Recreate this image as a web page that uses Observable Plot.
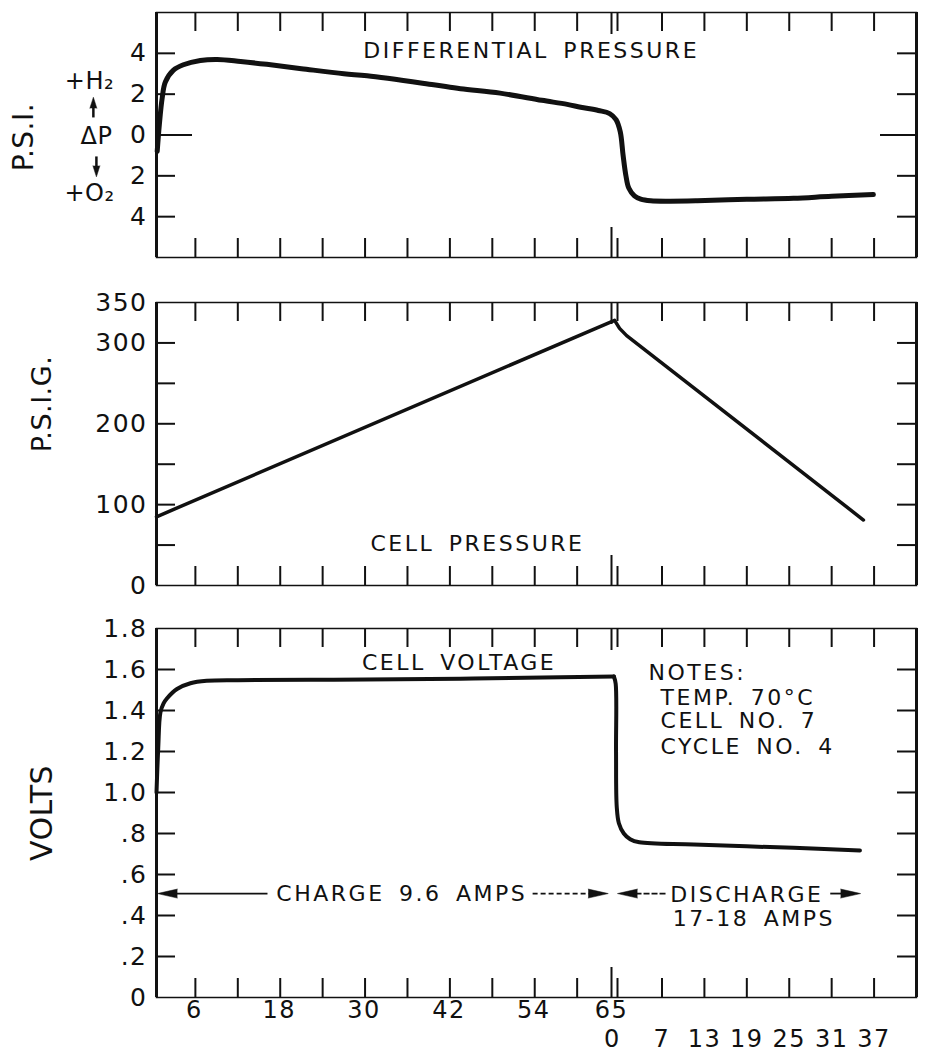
<!DOCTYPE html>
<html>
<head>
<meta charset="utf-8">
<script src="https://cdn.jsdelivr.net/npm/d3@7"></script>
<script src="https://cdn.jsdelivr.net/npm/@observablehq/plot@0.6"></script>
<style>
  body { margin: 0; background: #fff; }
  #chart { position: relative; width: 925px; height: 1064px; font-family: "DejaVu Sans", sans-serif; }
  #chart svg { position: absolute; left: 0; overflow: visible; background: transparent; }
  #chart svg text { letter-spacing: 1.5px; }
  #chart g[aria-description="lettering"] text { letter-spacing: 2.5px; word-spacing: 5px; }
  #chart g[aria-description="title"] text { letter-spacing: 0.5px; }
  #chart g[aria-description="gas"] text { letter-spacing: 0.5px; }
</style>
</head>
<body>
<div id="chart"></div>
<script>
// ---------------- DATA ----------------
// Elapsed time: charge minutes 0-65, then discharge minutes continue after 65
const CHARGE_END = 65;

// Differential pressure (P.S.I., + = H2 side, - = O2 side)
const diffTime = [0.6, 0.9, 1.3, 1.75, 2.9, 4.3, 6.7, 9.1, 12.4, 16.1, 21.0, 27.0, 30.3, 39.7, 43.5, 49.1, 55.0, 58.6, 60.5, 63.0, 64.6, 65.5, 66.1, 66.5, 66.9, 67.3, 68.1, 69.0, 70.4, 73.0, 77.0, 84.0, 90.6, 96.0, 101.9];
const diffPsi  = [-0.8, 0.5, 1.8, 2.6, 3.18, 3.44, 3.65, 3.70, 3.60, 3.46, 3.25, 3.0, 2.9, 2.46, 2.27, 2.05, 1.70, 1.50, 1.36, 1.20, 1.05, 0.75, 0.15, -1.0, -2.0, -2.6, -2.98, -3.14, -3.22, -3.24, -3.22, -3.15, -3.1, -3.0, -2.92];

// Cell pressure (P.S.I.G.)
const cellTime = [0.5, 65.3, 66.0, 67.0, 100.5];
const cellPsig = [85, 328, 318, 309, 81];

// Cell voltage (volts): charge branch, then discharge branch (starting at the corner)
const voltChargeTime = [0.5, 0.75, 1.05, 1.5, 2.0, 3.4, 5.3, 7.6, 12.0, 25.6, 43.5, 57.6, 65.2];
const voltCharge     = [1.00, 1.22, 1.39, 1.435, 1.46, 1.505, 1.533, 1.545, 1.548, 1.55, 1.555, 1.562, 1.566];
const voltDischTime  = [65.2, 65.45, 65.5, 65.6, 65.9, 66.6, 67.5, 68.8, 76.5, 90.6, 100.0];
const voltDisch      = [1.566, 1.53, 1.2, 0.93, 0.85, 0.80, 0.772, 0.757, 0.746, 0.73, 0.717];

// Axis ticks / labels
const chargeTicks = [6, 12, 18, 24, 30, 36, 42, 48, 54, 60];
const chargeLabels = [6, 18, 30, 42, 54, 65];
const dischargeTicks = [7, 13, 19, 25, 31, 37];
const dischargeLabels = [0, 7, 13, 19, 25, 31, 37];

const diffTicks = [4, 2, 0, -2, -4];
const diffLabels = ["4", "2", "0", "2", "4"];
const psigTicks = [50, 100, 150, 200, 250, 300];
const psigLabelValues = [0, 100, 200, 300, 350];
const voltTicks = [0.2, 0.4, 0.6, 0.8, 1.0, 1.2, 1.4, 1.6];
const voltLabelValues = [0, 0.2, 0.4, 0.6, 0.8, 1.0, 1.2, 1.4, 1.6, 1.8];
const voltLabels = ["0", ".2", ".4", ".6", ".8", "1.0", "1.2", "1.4", "1.6", "1.8"];

const noteLines = ["NOTES:", "TEMP. 70°C", "CELL NO. 7", "CYCLE NO. 4"];

// ---------------- LAYOUT ----------------
const X_DOMAIN = [0.5, 108];
const W = 925, ML = 156, MR = 9;
const FW = W - ML - MR;
const ink = "#111";
const font = "'DejaVu Sans', sans-serif";

function rows(xs, ys) { return xs.map((x, i) => ({x, y: ys[i]})); }

function panel({top, height, mt, mb, yDomain, yTicks, yLabelValues, yLabels, zeroLong, marks}) {
  const fh = height - mt - mb;
  const frameMarks = [
    Plot.frame({stroke: ink, strokeWidth: 1.5}),
    Plot.ruleX(X_DOMAIN, {stroke: ink, strokeWidth: 3}),
    // inward ticks, top and bottom edges
    Plot.ruleX(chargeTicks, {insetBottom: fh - 19, stroke: ink, strokeWidth: 2}),
    Plot.ruleX(chargeTicks, {insetTop: fh - 19, stroke: ink, strokeWidth: 2}),
    Plot.ruleX(dischargeTicks, {x: d => CHARGE_END + d, insetBottom: fh - 19, stroke: ink, strokeWidth: 2}),
    Plot.ruleX(dischargeTicks, {x: d => CHARGE_END + d, insetTop: fh - 19, stroke: ink, strokeWidth: 2}),
    Plot.ruleX([CHARGE_END], {dx: -1, insetBottom: fh - 22, stroke: ink, strokeWidth: 2}),
    Plot.ruleX([CHARGE_END], {dx: -1, insetTop: fh - 30, stroke: ink, strokeWidth: 2}),
    Plot.ruleX([CHARGE_END], {dx: 5, insetBottom: fh - 19, stroke: ink, strokeWidth: 2}),
    Plot.ruleX([CHARGE_END], {dx: 5, insetTop: fh - 19, stroke: ink, strokeWidth: 2}),
    // inward ticks, left and right edges
    Plot.ruleY(yTicks, {insetRight: FW - 19, stroke: ink, strokeWidth: 2}),
    Plot.ruleY(yTicks, {insetLeft: FW - 19, stroke: ink, strokeWidth: 2}),
    zeroLong ? Plot.ruleY([0], {insetRight: FW - 36, stroke: ink, strokeWidth: 2}) : null,
    zeroLong ? Plot.ruleY([0], {insetLeft: FW - 36, stroke: ink, strokeWidth: 2}) : null,
    // y tick labels
    Plot.text(yLabelValues, {y: d => d, text: (d, i) => yLabels[i], frameAnchor: "left", textAnchor: "end", dx: -9, fontSize: 25, fill: ink})
  ];
  const svg = Plot.plot({
    width: W, height,
    marginTop: mt, marginBottom: mb, marginLeft: ML, marginRight: MR,
    x: {domain: X_DOMAIN, axis: null},
    y: {domain: yDomain, axis: null},
    style: {background: "transparent", overflow: "visible", fontFamily: font, fontSize: "24px", color: ink},
    marks: [...frameMarks, ...marks]
  });
  svg.style.top = top + "px";
  document.getElementById("chart").appendChild(svg);
}

function headMark(x, y, dir, len = 20, r = 4.5) {
  return Plot.vector([{x, y}], {x: "x", y: "y", rotate: dir, length: len, r, shape: "spike", anchor: "end", fill: ink, stroke: ink, strokeWidth: 0.5});
}
function title(text, dx, dy, size) {
  return Plot.text([text], {frameAnchor: "left", textAnchor: "middle", rotate: -90, dx, dy, text: d => d, fontSize: size, fill: ink, ariaDescription: "title"});
}
function lettering(text, x, y, extra = {}) {
  return Plot.text([text], {x, y, text: d => d, fontSize: 22, fill: ink, ariaDescription: "lettering", ...extra});
}

// ---------------- PANEL 1: DIFFERENTIAL PRESSURE ----------------
panel({
  top: 0, height: 278, mt: 12, mb: 21,
  yDomain: [-6, 6], yTicks: diffTicks, yLabelValues: diffTicks, yLabels: diffLabels, zeroLong: true,
  marks: [
    Plot.line(rows(diffTime, diffPsi), {x: "x", y: "y", curve: "catmull-rom", stroke: ink, strokeWidth: 5, strokeLinecap: "round", strokeLinejoin: "round"}),
    lettering("DIFFERENTIAL PRESSURE", 53.5, 4.14),
    title("P.S.I.", -132, 2, 28),
    Plot.text(["+H₂"], {frameAnchor: "left", textAnchor: "middle", y: 2.62, dx: -67, text: d => d, fontSize: 24, fill: ink, ariaDescription: "gas"}),
    Plot.text(["ΔP"], {frameAnchor: "left", textAnchor: "middle", y: -0.07, dx: -60, text: d => d, fontSize: 24, fill: ink, ariaDescription: "gas"}),
    Plot.text(["+O₂"], {frameAnchor: "left", textAnchor: "middle", y: -2.86, dx: -67, text: d => d, fontSize: 24, fill: ink, ariaDescription: "gas"}),
    Plot.link([{x1: -8.43, y1: 0.86, x2: -8.43, y2: 1.4}], {x1: "x1", y1: "y1", x2: "x2", y2: "y2", stroke: ink, strokeWidth: 2.5}),
    headMark(-8.43, 1.85, 0, 11, 3.5),
    Plot.link([{x1: -8.0, y1: -1.05, x2: -8.0, y2: -1.6}], {x1: "x1", y1: "y1", x2: "x2", y2: "y2", stroke: ink, strokeWidth: 2.5}),
    headMark(-8.0, -2.05, 180, 11, 3.5)
  ]
});

// ---------------- PANEL 2: CELL PRESSURE ----------------
panel({
  top: 278, height: 320, mt: 24, mb: 13,
  yDomain: [0, 350], yTicks: psigTicks, yLabelValues: psigLabelValues, yLabels: psigLabelValues.map(String), zeroLong: false,
  marks: [
    Plot.line(rows(cellTime, cellPsig), {x: "x", y: "y", stroke: ink, strokeWidth: 3.5, strokeLinecap: "round", strokeLinejoin: "round"}),
    lettering("CELL PRESSURE", 45.9, 51.9),
    title("P.S.I.G.", -114, -40, 27)
  ]
});

// ---------------- PANEL 3: CELL VOLTAGE ----------------
panel({
  top: 598, height: 466, mt: 30, mb: 67,
  yDomain: [0, 1.8], yTicks: voltTicks, yLabelValues: voltLabelValues, yLabels: voltLabels, zeroLong: false,
  marks: [
    Plot.line(rows(voltChargeTime, voltCharge), {x: "x", y: "y", curve: "catmull-rom", stroke: ink, strokeWidth: 4, strokeLinecap: "round", strokeLinejoin: "round"}),
    Plot.line(rows(voltDischTime, voltDisch), {x: "x", y: "y", curve: "catmull-rom", stroke: ink, strokeWidth: 4, strokeLinecap: "round", strokeLinejoin: "round"}),
    lettering("CELL VOLTAGE", 43.3, 1.63),
    Plot.text(noteLines, {x: (d, i) => i === 0 ? 70.1 : 71.8, y: (d, i) => [1.583, 1.463, 1.349, 1.224][i], text: d => d, textAnchor: "start", fontSize: 22, fill: ink, ariaDescription: "lettering"}),
    // charge / discharge arrows and labels
    lettering("CHARGE 9.6 AMPS", 35.2, 0.507),
    lettering("DISCHARGE", 84.0, 0.50),
    lettering("17-18 AMPS", 85.0, 0.385),
    Plot.link([{x1: 16.2, x2: 3.0, y: 0.507}], {x1: "x1", x2: "x2", y1: "y", y2: "y", stroke: ink, strokeWidth: 1.8}),
    headMark(0.62, 0.507, -90),
    Plot.link([{x1: 53.7, x2: 62.0, y: 0.507}], {x1: "x1", x2: "x2", y1: "y", y2: "y", stroke: ink, strokeWidth: 1.8, strokeDasharray: "5,3"}),
    headMark(64.4, 0.507, 90),
    Plot.link([{x1: 72.5, x2: 67.5, y: 0.507}], {x1: "x1", x2: "x2", y1: "y", y2: "y", stroke: ink, strokeWidth: 1.8, strokeDasharray: "6,2"}),
    headMark(65.7, 0.507, -90),
    Plot.link([{x1: 95.8, x2: 98.5, y: 0.507}], {x1: "x1", x2: "x2", y1: "y", y2: "y", stroke: ink, strokeWidth: 1.8}),
    headMark(100.1, 0.507, 90),
    title("VOLTS", -114, 0, 30),
    // x-axis labels: charge minutes, then discharge minutes
    Plot.text(chargeLabels, {x: d => d, frameAnchor: "bottom", dy: 20, dx: -1, text: String, fontSize: 24, fill: ink}),
    Plot.text(dischargeLabels, {x: d => CHARGE_END + d, frameAnchor: "bottom", dy: 49, text: String, fontSize: 24, fill: ink})
  ]
});
</script>
</body>
</html>
